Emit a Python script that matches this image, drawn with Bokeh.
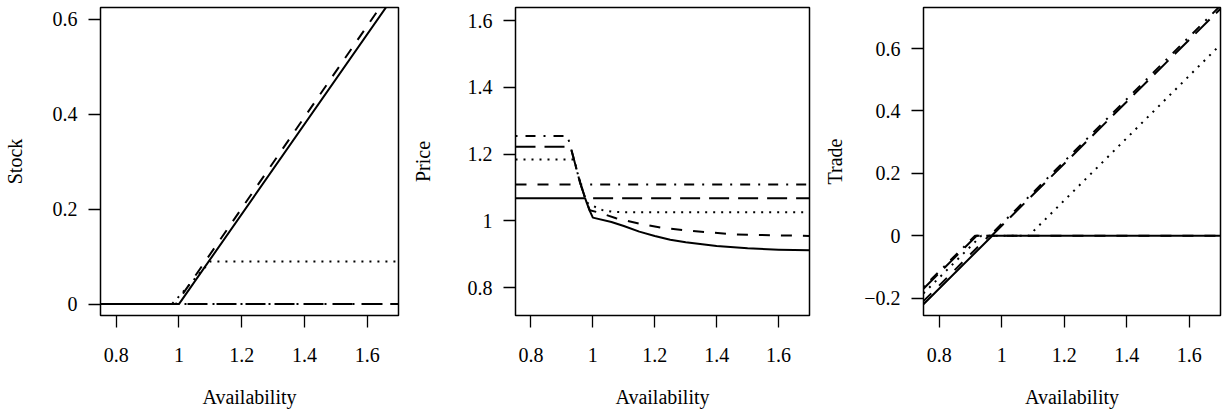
from bokeh.plotting import figure
from bokeh.layouts import row
from bokeh.models import Range1d, FixedTicker
from bokeh.embed import file_html
from bokeh.resources import INLINE

# ---------------- data ----------------
x_ticks = [0.8, 1.0, 1.2, 1.4, 1.6]
x_tick_labels = ["0.8", "1", "1.2", "1.4", "1.6"]

stock_ticks = [0.0, 0.2, 0.4, 0.6]
stock_tick_labels = ["0", "0.2", "0.4", "0.6"]
price_ticks = [0.8, 1.0, 1.2, 1.4, 1.6]
price_tick_labels = ["0.8", "1", "1.2", "1.4", "1.6"]
trade_ticks = [-0.2, 0.0, 0.2, 0.4, 0.6]
trade_tick_labels = ["\u22120.2", "0", "0.2", "0.4", "0.6"]

# Stock panel
stock_solid_x = [0.75, 1.0, 1.7]
stock_solid_y = [0.0, 0.0, 0.663]
stock_dashed_x = [0.75, 0.99, 1.7]
stock_dashed_y = [0.0, 0.0, 0.682]
stock_dotted_x = [0.75, 0.978, 1.10, 1.7]
stock_dotted_y = [0.0, 0.0, 0.09, 0.09]
stock_longdash_x = [0.75, 1.7]
stock_longdash_y = [0.0, 0.0]
stock_dotdash_x = [0.75, 1.7]
stock_dotdash_y = [0.0, 0.0]

# Price panel
price_solid_x = [0.75, 0.975, 0.98, 0.99, 1.0, 1.06, 1.1, 1.15, 1.2, 1.25, 1.3, 1.4, 1.5, 1.6, 1.7]
price_solid_y = [1.068, 1.068, 1.055, 1.03, 1.01, 0.997, 0.985, 0.968, 0.955, 0.944, 0.936, 0.925, 0.918, 0.914, 0.912]
price_dashed_x = [0.75, 0.96, 0.97, 0.98, 0.99, 1.02, 1.075, 1.16, 1.22, 1.3, 1.45, 1.7]
price_dashed_y = [1.109, 1.109, 1.083, 1.055, 1.032, 1.025, 1.008, 0.99, 0.98, 0.972, 0.96, 0.955]
price_dotted_x = [0.75, 0.94, 0.95, 0.96, 0.97, 0.98, 1.0, 1.03, 1.06, 1.1, 1.7]
price_dotted_y = [1.184, 1.184, 1.145, 1.113, 1.083, 1.055, 1.045, 1.033, 1.028, 1.026, 1.026]
price_longdash_x = [0.75, 0.925, 0.93, 0.94, 0.95, 0.96, 0.97, 0.975, 1.7]
price_longdash_y = [1.222, 1.222, 1.215, 1.18, 1.145, 1.113, 1.083, 1.068, 1.068]
price_dotdash_x = [0.75, 0.918, 0.93, 0.94, 0.95, 0.96, 1.7]
price_dotdash_y = [1.2545, 1.2545, 1.215, 1.18, 1.145, 1.109, 1.109]

# Trade panel
trade_solid_x = [0.75, 0.97, 1.7]
trade_solid_y = [-0.22, 0.0, 0.0]
trade_dashed_x = [0.75, 0.96, 1.7]
trade_dashed_y = [-0.21, 0.0, 0.0]
trade_dotted_x = [0.75, 0.935, 1.087, 1.7]
trade_dotted_y = [-0.185, 0.0, 0.0, 0.613]
trade_longdash_x = [0.75, 0.92, 0.968, 1.7]
trade_longdash_y = [-0.17, 0.0, 0.0, 0.728]
trade_dotdash_x = [0.75, 0.915, 0.962, 1.7]
trade_dotdash_y = [-0.165, 0.0, 0.0, 0.738]

# ---------------- styling ----------------
FONT = "Liberation Serif"
FS = "20px"
DASHES = {
    "solid": "solid",
    "dashed": "11 11",
    "dotted": "2 6",
    "longdash": "20 9",
    "dotdash": "2 8 10 8",
}
LW = 2.0


def make_panel(width, left, right, ylab, yrange, yticks, ylabels, ylab_standoff, series):
    p = figure(width=width, height=418, output_backend="svg", toolbar_location=None,
               x_range=Range1d(0.75, 1.7), y_range=Range1d(*yrange),
               min_border_left=left, min_border_right=right,
               min_border_top=7, min_border_bottom=103)
    p.grid.visible = False
    p.background_fill_color = "white"
    p.border_fill_color = "white"
    p.outline_line_color = "black"
    p.outline_line_width = 1.5
    p.outline_line_alpha = 1.0

    for name, (xs, ys) in series.items():
        p.line(xs, ys, line_color="black", line_width=LW, line_dash=DASHES[name],
               line_join="round")

    p.xaxis.ticker = FixedTicker(ticks=x_ticks)
    p.xaxis.major_label_overrides = dict(zip(x_ticks, x_tick_labels))
    p.yaxis.ticker = FixedTicker(ticks=yticks)
    p.yaxis.major_label_overrides = dict(zip(yticks, ylabels))

    for ax in (p.xaxis[0], p.yaxis[0]):
        ax.axis_line_color = None
        ax.major_tick_in = 0
        ax.major_tick_out = 12
        ax.major_tick_line_width = 1.3
        ax.major_tick_line_color = "black"
        ax.minor_tick_line_color = None
        ax.major_label_text_font = FONT
        ax.major_label_text_font_size = FS
        ax.major_label_text_color = "black"
        ax.axis_label_text_font = FONT
        ax.axis_label_text_font_size = FS
        ax.axis_label_text_font_style = "normal"
        ax.axis_label_text_color = "black"

    p.yaxis.major_label_standoff = 11
    p.xaxis.major_label_standoff = 20
    p.yaxis.major_label_orientation = "horizontal"
    p.xaxis.axis_label = "Availability"
    p.xaxis.axis_label_standoff = 21
    p.yaxis.axis_label = ylab
    p.yaxis.axis_label_standoff = ylab_standoff
    return p


p1 = make_panel(408, 100, 10, "Stock", (-0.024, 0.625), stock_ticks, stock_tick_labels, 24, {
    "solid": (stock_solid_x, stock_solid_y),
    "dashed": (stock_dashed_x, stock_dashed_y),
    "dotted": (stock_dotted_x, stock_dotted_y),
    "dotdash": (stock_dotdash_x, stock_dotdash_y),
    "longdash": (stock_longdash_x, stock_longdash_y),
})
p2 = make_panel(408, 104, 7, "Price", (0.717, 1.639), price_ticks, price_tick_labels, 31, {
    "solid": (price_solid_x, price_solid_y),
    "dashed": (price_dashed_x, price_dashed_y),
    "dotted": (price_dotted_x, price_dotted_y),
    "dotdash": (price_dotdash_x, price_dotdash_y),
    "longdash": (price_longdash_x, price_longdash_y),
})
p3 = make_panel(408, 107, 4, "Trade", (-0.256, 0.732), trade_ticks, trade_tick_labels, 15, {
    "solid": (trade_solid_x, trade_solid_y),
    "dashed": (trade_dashed_x, trade_dashed_y),
    "dotted": (trade_dotted_x, trade_dotted_y),
    "dotdash": (trade_dotdash_x, trade_dotdash_y),
    "longdash": (trade_longdash_x, trade_longdash_y),
})

layout = row(p1, p2, p3)
open("out.html", "w").write(file_html(layout, INLINE))
